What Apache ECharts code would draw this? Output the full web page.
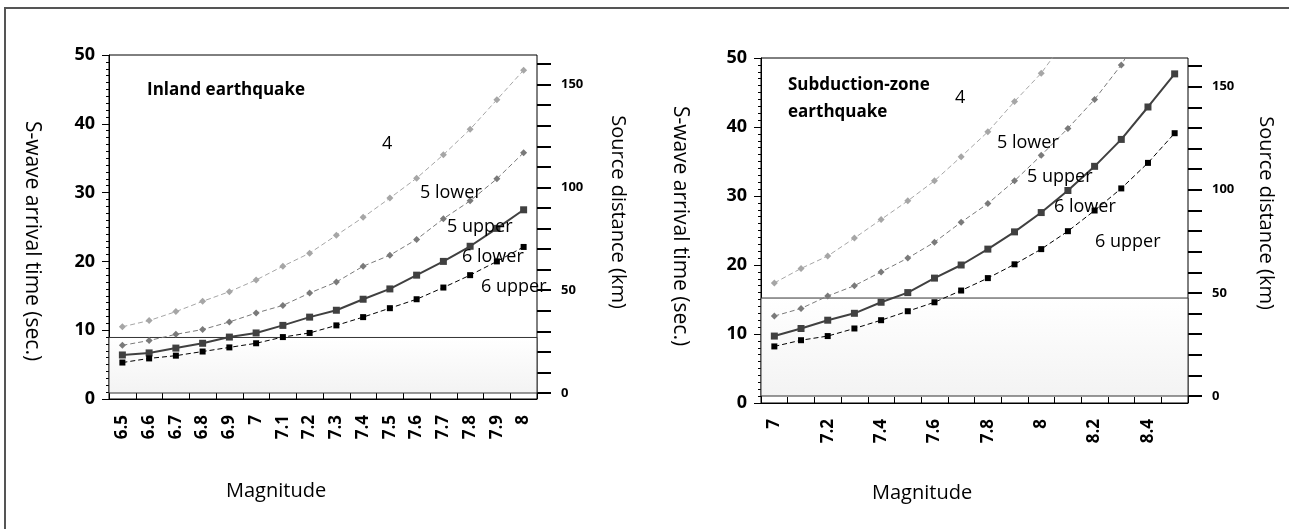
<!DOCTYPE html>
<html>
<head>
<meta charset="utf-8">
<script src="https://cdn.jsdelivr.net/npm/echarts@6/dist/echarts.min.js"></script>
<style>
  html, body { margin: 0; padding: 0; background: #fff; }
  #main { width: 1289px; height: 529px; }
</style>
</head>
<body>
<div id="main"></div>
<script>
// magnitude categories
var magInland = ['6.5', '6.6', '6.7', '6.8', '6.9', '7', '7.1', '7.2', '7.3', '7.4', '7.5', '7.6', '7.7', '7.8', '7.9', '8'];
var magSubduction = ['7', '7.1', '7.2', '7.3', '7.4', '7.5', '7.6', '7.7', '7.8', '7.9', '8', '8.1', '8.2', '8.3', '8.4', '8.5'];

// S-wave arrival time (sec.) - inland earthquake, boundaries between intensity zones
var inland4_5L = [10.5, 11.4, 12.7, 14.2, 15.6, 17.3, 19.3, 21.2, 23.8, 26.4, 29.2, 32.1, 35.5, 39.2, 43.5, 47.8];
var inland5L_5U = [7.8, 8.5, 9.4, 10.1, 11.2, 12.5, 13.6, 15.4, 17.0, 19.3, 20.9, 23.2, 26.2, 28.8, 32.0, 35.8];
var inland5U_6L = [6.4, 6.7, 7.4, 8.1, 9.0, 9.6, 10.7, 11.9, 12.9, 14.5, 16.0, 18.0, 20.0, 22.2, 24.8, 27.5];
var inland6L_6U = [5.3, 5.9, 6.3, 6.9, 7.5, 8.1, 9.0, 9.6, 10.7, 11.9, 13.2, 14.5, 16.2, 18.0, 20.0, 22.1];

// S-wave arrival time (sec.) - subduction-zone earthquake
var sub4_5L = [17.4, 19.5, 21.3, 23.9, 26.6, 29.3, 32.2, 35.7, 39.3, 43.7, 47.8, 53.1, null, null, null, null];
var sub5L_5U = [12.6, 13.7, 15.5, 17.0, 19.0, 21.0, 23.3, 26.2, 28.9, 32.2, 35.9, 39.8, 44.0, 49.0, 55.4, null];
var sub5U_6L = [9.7, 10.8, 12.0, 13.0, 14.6, 16.0, 18.1, 20.0, 22.3, 24.8, 27.6, 30.8, 34.3, 38.2, 42.9, 47.7];
var sub6L_6U = [8.2, 9.1, 9.7, 10.8, 12.0, 13.3, 14.6, 16.3, 18.1, 20.1, 22.3, 24.9, 27.9, 31.1, 34.8, 39.1];

// shaded source distance band (km)
var bandInland = [0, 27];
var bandSubduction = [0, 47.5];

var FONT = '"Open Sans", "Liberation Sans", sans-serif';

// 曲线样式
function curve(name, data, xi, yi, style) {
  return {
    name: name,
    type: 'line',
    xAxisIndex: xi,
    yAxisIndex: yi,
    data: data,
    z: 5,
    symbol: style.symbol,
    symbolSize: style.size,
    showSymbol: true,
    itemStyle: { color: style.color },
    lineStyle: { color: style.color, width: style.width, type: style.type },
    connectNulls: false,
    silent: true,
    animation: false
  };
}

var s4 = { symbol: 'diamond', size: 7, color: '#a6a6a6', width: 1, type: [5, 3] };
var s5 = { symbol: 'diamond', size: 7, color: '#7a7a7a', width: 1, type: [5, 3] };
var s6 = { symbol: 'rect', size: 7, color: '#404040', width: 2, type: 'solid' };
var s7 = { symbol: 'rect', size: 6, color: '#000000', width: 1, type: [5, 3] };

// 灰色矩形
function band(range, xi, yi, cats) {
  return {
    name: 'band',
    type: 'line',
    xAxisIndex: xi,
    yAxisIndex: yi,
    data: cats.map(function() { return null; }),
    z: 1,
    silent: true,
    animation: false,
    markArea: {
      silent: true,
      itemStyle: {
        color: {
          type: 'linear', x: 0, y: 0, x2: 0, y2: 1,
          colorStops: [{ offset: 0, color: '#ffffff' }, { offset: 1, color: '#f3f3f3' }]
        },
        borderColor: '#333',
        borderWidth: 1
      },
      data: [[{ yAxis: range[0] }, { yAxis: range[1] }]]
    }
  };
}

function mainY(gi) {
  return {
    gridIndex: gi,
    type: 'value',
    min: 0,
    max: 50,
    interval: 10,
    position: 'left',
    axisLine: { show: true, lineStyle: { color: '#000', width: 1 } },
    axisTick: { show: true, length: 7, lineStyle: { color: '#000' } },
    minorTick: { show: true, splitNumber: 10, length: 3, lineStyle: { color: '#000' } },
    splitLine: { show: false },
    axisLabel: { margin: 14, color: '#000', fontFamily: FONT, fontWeight: 'bold', fontSize: 18 }
  };
}

function distY(gi) {
  return {
    gridIndex: gi,
    type: 'value',
    min: 0,
    max: 160,
    interval: 10,
    position: 'right',
    axisLine: { show: false },
    axisTick: { show: true, length: 14, lineStyle: { color: '#000', width: 2 } },
    splitLine: { show: false },
    axisLabel: {
      margin: 24, color: '#000', fontFamily: FONT, fontWeight: 'bold', fontSize: 13,
      formatter: function(v) { return v % 50 === 0 ? v : ''; }
    }
  };
}

function magX(gi, cats, labelInterval) {
  return {
    gridIndex: gi,
    type: 'category',
    data: cats,
    boundaryGap: true,
    axisLine: { show: true, lineStyle: { color: '#000', width: 1 } },
    axisTick: { show: true, inside: true, length: 6, interval: 0, lineStyle: { color: '#000' } },
    axisLabel: {
      interval: labelInterval, rotate: 90, margin: 16, color: '#000',
      fontFamily: FONT, fontWeight: 'bold', fontSize: 17
    }
  };
}

function hiddenX(gi, cats) {
  return { gridIndex: gi, type: 'category', data: cats, show: false, boundaryGap: true };
}

function txt(text, x, y, size, bold, rot) {
  return {
    type: 'text',
    x: x,
    y: y,
    rotation: rot || 0,
    silent: true,
    z: 10,
    style: {
      text: text,
      fill: '#000',
      font: (bold ? 'bold ' : '') + size + 'px ' + FONT,
      align: rot ? 'center' : 'left',
      verticalAlign: 'middle'
    }
  };
}

var option = {
  backgroundColor: '#fff',
  animation: false,
  grid: [
    { left: 109, right: 752, top: 55, bottom: 130, show: true, borderColor: '#000', borderWidth: 1 },
    { left: 109, right: 752, top: 64, bottom: 136 },
    { left: 761, right: 101, top: 58, bottom: 126, show: true, borderColor: '#000', borderWidth: 1 },
    { left: 761, right: 101, top: 66, bottom: 133 }
  ],
  xAxis: [
    magX(0, magInland, 0),
    hiddenX(1, magInland),
    magX(2, magSubduction, 1),
    hiddenX(3, magSubduction)
  ],
  yAxis: [mainY(0), distY(1), mainY(2), distY(3)],
  series: [
    band(bandInland, 1, 1, magInland),
    curve('4 / 5 lower', inland4_5L, 0, 0, s4),
    curve('5 lower / 5 upper', inland5L_5U, 0, 0, s5),
    curve('5 upper / 6 lower', inland5U_6L, 0, 0, s6),
    curve('6 lower / 6 upper', inland6L_6U, 0, 0, s7),
    band(bandSubduction, 3, 3, magSubduction),
    curve('4 / 5 lower', sub4_5L, 2, 2, s4),
    curve('5 lower / 5 upper', sub5L_5U, 2, 2, s5),
    curve('5 upper / 6 lower', sub5U_6L, 2, 2, s6),
    curve('6 lower / 6 upper', sub6L_6U, 2, 2, s7)
  ],
  graphic: [
    {
      type: 'rect', silent: true, z: 0,
      shape: { x: 5, y: 8, width: 1400, height: 700 },
      style: { fill: 'none', stroke: '#555', lineWidth: 2 }
    },
    // 左图
    txt('Inland earthquake', 147, 90, 17, true),
    txt('4', 382, 144, 18),
    txt('5 lower', 420, 193, 18),
    txt('5 upper', 447, 227, 18),
    txt('6 lower', 462, 257, 18),
    txt('6 upper', 481, 287, 18),
    txt('S-wave arrival time (sec.)', 32, 241, 21, false, -Math.PI / 2),
    txt('Source distance (km)', 618, 212, 20, false, -Math.PI / 2),
    txt('Magnitude', 226, 491, 20),
    // 右图
    txt('Subduction-zone', 788, 85, 17, true),
    txt('earthquake', 788, 112, 17, true),
    txt('4', 955, 98, 18),
    txt('5 lower', 997, 143, 18),
    txt('5 upper', 1027, 177, 18),
    txt('6 lower', 1054, 207, 18),
    txt('6 upper', 1095, 242, 18),
    txt('S-wave arrival time (sec.)', 680, 226, 21, false, -Math.PI / 2),
    txt('Source distance (km)', 1266, 213, 20, false, -Math.PI / 2),
    txt('Magnitude', 872, 493, 20)
  ]
};

var myChart = echarts.init(document.getElementById('main'));
myChart.setOption(option);
</script>
</body>
</html>
